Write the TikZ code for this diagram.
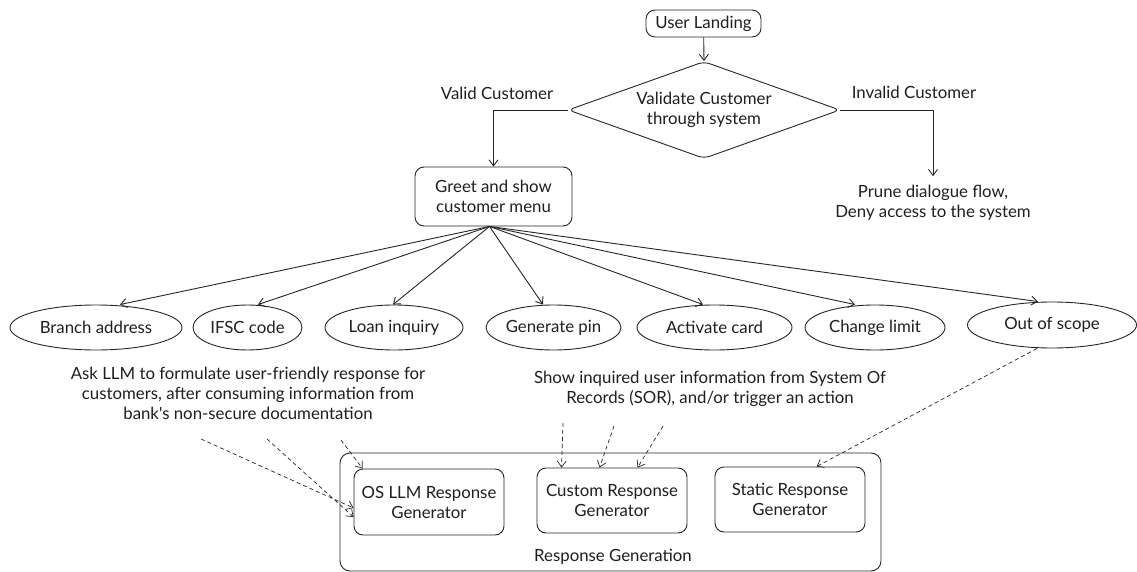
\documentclass[tikz,border=0pt]{standalone}
\usepackage{fontspec}
\setmainfont{Lato}[Ligatures=TeXOff]
\usetikzlibrary{arrows.meta,shapes.geometric,calc}
\tikzset{
  every node/.style={font=\fontsize{16.8}{20}\selectfont, text=black!88},
  line/.style={draw=black!85, line width=0.9pt},
  arr/.style={line, -{Straight Barb[length=6pt,width=9pt]}},
  darr/.style={arr, line width=0.7pt, dash pattern=on 4pt off 3pt},
  rbox/.style={line, rounded corners=9pt, align=center, inner sep=0pt},
  oval/.style={line, ellipse, inner sep=0pt, minimum height=45pt},
  lbl/.style={align=center, inner sep=0pt},
}
\begin{document}
\begin{tikzpicture}[x=1pt,y=-1pt]
\useasboundingbox[fill=white] (0,0) rectangle (1137,572);

% top flow
\node[rbox, minimum width=115pt, minimum height=27pt] (user) at (703.5,23.5) {User Landing};
\node[line, diamond, aspect=2.8, inner sep=0pt, minimum width=272pt, minimum height=97pt, rounded corners=6pt, align=center] (dia) at (704,110) {Validate Customer\\through system};
\node[rbox, minimum width=157pt, minimum height=59pt] (greet) at (493.5,196.5) {Greet and show\\customer menu};
\node[lbl] (valid) at (497,93) {Valid Customer};
\node[lbl] (invalid) at (914,92) {Invalid Customer};
\node[lbl] (prune) at (933,203) {Prune dialogue flow,\\Deny access to the system};

\draw[arr] (user) -- (dia.north);
\draw[arr] (dia.west) -| (greet.north);
\draw[arr] (dia.east) -| ([yshift=9pt]prune.north);

% menu options
\node[oval, minimum width=172pt] (br) at (96,327.5) {Branch address};
\node[oval, minimum width=109pt] (ifsc) at (247.5,327.5) {IFSC code};
\node[oval, minimum width=138pt] (loan) at (394,327.5) {Loan inquiry};
\node[oval, minimum width=127pt] (pin) at (553.5,327.5) {Generate pin};
\node[oval, minimum width=155pt] (act) at (714.5,327.5) {Activate card};
\node[oval, minimum width=140pt] (lim) at (875,327.5) {Change limit};
\node[oval, minimum width=169pt, minimum height=46pt] (oos) at (1052,325) {Out of scope};

\coordinate (fan) at ([xshift=-4pt]greet.south);
\draw[arr] (fan) -- ([xshift=24pt]br.north);
\draw[arr] (fan) -- ([xshift=10.5pt]ifsc.north);
\draw[arr] (fan) -- ([xshift=-1pt]loan.north);
\draw[arr] (fan) -- ([xshift=-10.5pt]pin.north);
\draw[arr] (fan) -- ([xshift=-11.5pt]act.north);
\draw[arr] (fan) -- ([xshift=-20pt]lim.north);
\draw[arr] (fan) -- ([xshift=-14pt]oos.north);

% explanatory texts
\node[lbl] (ask) at (248,393) {Ask LLM to formulate user-friendly response for\\customers, after consuming information from\\bank's non-secure documentation};
\node[lbl] (show) at (710,389) {Show inquired user information from System Of\\Records (SOR), and/or trigger an action};

% response generation
\node[line, rounded corners=10pt, minimum width=541pt, minimum height=118pt, inner sep=0pt] (rg) at (610.5,512) {};
\node[lbl] (rglbl) at (613,557) {Response Generation};
\node[rbox, minimum width=150pt, minimum height=66pt] (os) at (429,502) {OS LLM Response\\Generator};
\node[rbox, minimum width=150pt, minimum height=65pt] (cust) at (612,500.5) {Custom Response\\Generator};
\node[rbox, minimum width=150pt, minimum height=65pt] (stat) at (790,499.5) {Static Response\\Generator};

% dashed arrows
\coordinate (a1) at (201,439);
\coordinate (a2) at (267,439);
\coordinate (a3) at (341,440);
\draw[darr] (a1) -- ([yshift=-6pt]os.west);
\draw[darr] (a2) -- ([yshift=-15pt]os.west);
\draw[darr] (a3) -- ([xshift=9pt]os.north west);

\coordinate (s1) at (563,423);
\coordinate (s2) at (614,426);
\coordinate (s3) at (663,426);
\draw[darr] (s1) -- ([xshift=25pt]cust.north west);
\draw[darr] (s2) -- ([xshift=63pt]cust.north west);
\draw[darr] (s3) -- ([xshift=101pt]cust.north west);

\draw[darr] ([xshift=-15pt]oos.south) -- ([xshift=102pt]stat.north west);
\end{tikzpicture}
\end{document}
